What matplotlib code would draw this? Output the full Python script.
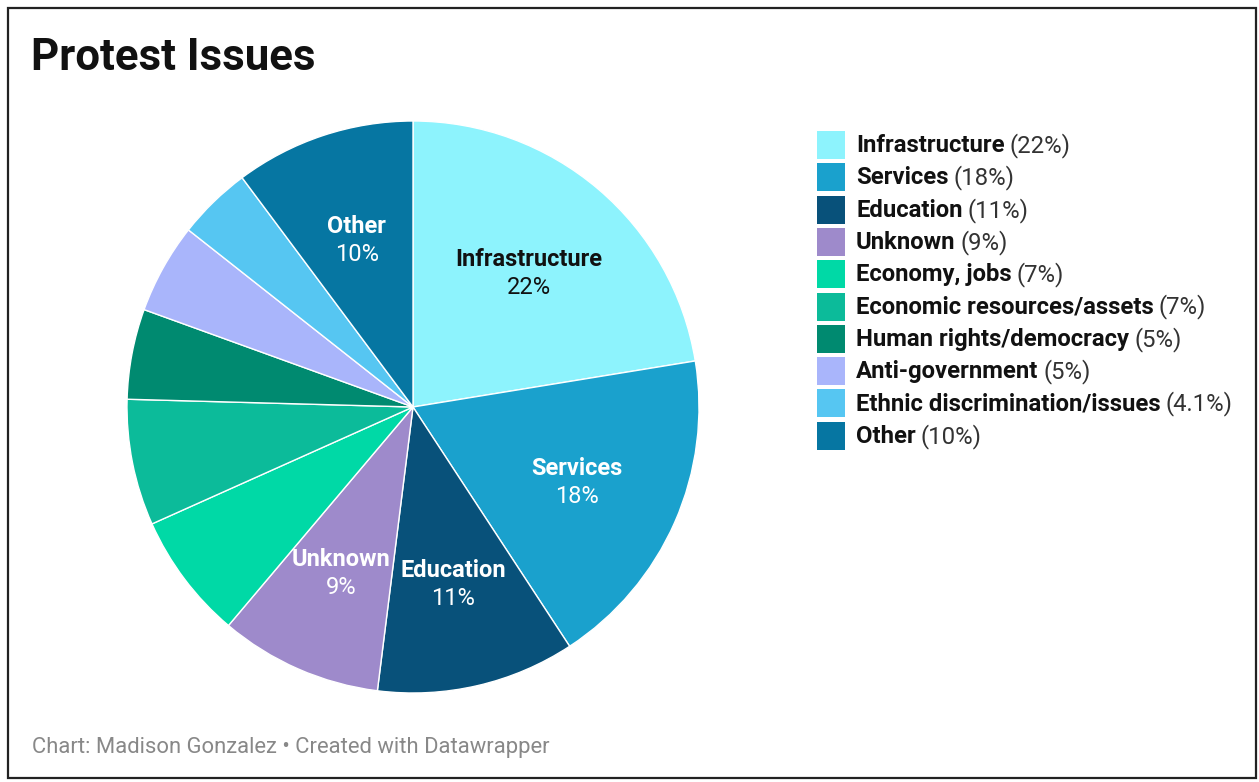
import matplotlib
matplotlib.use("Agg")
import matplotlib.pyplot as plt
from matplotlib.patches import Rectangle
import numpy as np

plt.rcParams['font.family'] = ['Roboto', 'DejaVu Sans']

categories = ["Infrastructure", "Services", "Education", "Unknown", "Economy, jobs",
              "Economic resources/assets", "Human rights/democracy", "Anti-government",
              "Ethnic discrimination/issues", "Other"]
values = [22, 18, 11, 9, 7, 7, 5, 5, 4.1, 10]
value_labels = ["22%", "18%", "11%", "9%", "7%", "7%", "5%", "5%", "4.1%", "10%"]
colors = ["#8df3fd", "#1aa1cd", "#08517a", "#9e8acb", "#00d9a6",
          "#0cbb9a", "#008a70", "#a9b5fb", "#56c6f2", "#0676a2"]
# slices large enough to carry an inside label
inside_labels = ["Infrastructure", "Services", "Education", "Unknown", "Other"]

W, H = 1259, 782
fig = plt.figure(figsize=(W / 100, H / 100), dpi=100)
fig.patch.set_facecolor("white")

# frame around the whole graphic
fig.add_artist(Rectangle((8 / W, 4 / H), (1256 - 8) / W, (774 - 4) / H,
                         transform=fig.transFigure, fill=False,
                         edgecolor="#222222", linewidth=1.6))

# title and footer
fig.text(31 / W, 1 - 58 / H, "Protest Issues", fontsize=31.5, fontweight="bold",
         color="#111111", va="center", ha="left")
fig.text(32 / W, 1 - 748 / H, "Chart: Madison Gonzalez \u2022 Created with Datawrapper",
         fontsize=15.8, color="#888888", va="center", ha="left")

# pie
cx, cy, R = 413, 407, 286
ax = fig.add_axes([(cx - R) / W, (H - cy - R) / H, 2 * R / W, 2 * R / H])
wedges, _ = ax.pie(values, colors=colors, startangle=90, counterclock=False,
                   radius=1, wedgeprops=dict(edgecolor="white", linewidth=1.0))
ax.set_xlim(-1, 1)
ax.set_ylim(-1, 1)
ax.set_aspect("equal")
ax.axis("off")

off = 14 / R
shift = 3 / R
for w, cat, lab in zip(wedges, categories, value_labels):
    if cat not in inside_labels:
        continue
    mid = np.deg2rad((w.theta1 + w.theta2) / 2)
    x, y = 0.625 * np.cos(mid), 0.625 * np.sin(mid) - shift
    tc = "#111111" if cat == "Infrastructure" else "white"
    ax.text(x, y + off, cat, ha="center", va="center", fontsize=17,
            fontweight="bold", color=tc)
    ax.text(x, y - off, lab, ha="center", va="center", fontsize=17, color=tc)

# legend
fig.canvas.draw()
renderer = fig.canvas.get_renderer()
row_y = 145.5
step = 32.3
for i, (cat, lab, col) in enumerate(zip(categories, value_labels, colors)):
    yc = row_y + i * step
    fig.add_artist(Rectangle((817 / W, 1 - (yc + 13.5) / H), 28 / W, 28 / H,
                             transform=fig.transFigure, facecolor=col,
                             edgecolor="none"))
    t = fig.text(856 / W, 1 - yc / H, cat, fontsize=17.2, fontweight="bold",
                 color="#111111", va="center", ha="left")
    bb = t.get_window_extent(renderer=renderer)
    fig.text((bb.x1 + 5) / W, 1 - yc / H, f"({lab})", fontsize=17.2,
             color="#333333", va="center", ha="left")

fig.savefig("out.png", dpi=100, facecolor="white")
